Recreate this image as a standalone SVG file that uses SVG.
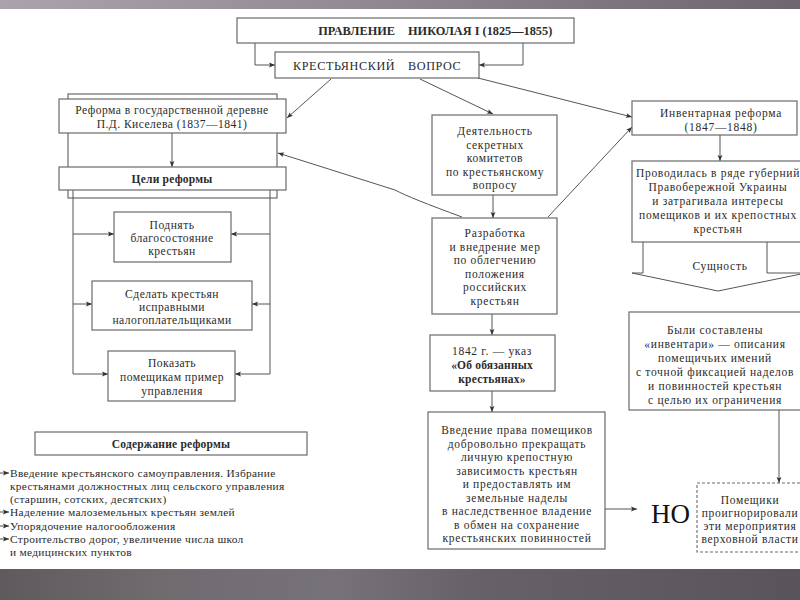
<svg xmlns="http://www.w3.org/2000/svg" width="800" height="600" viewBox="0 0 800 600">
<defs>
<linearGradient id="gTop" x1="0" y1="0" x2="1" y2="0">
<stop offset="0" stop-color="#aaa3ab"/><stop offset="0.5" stop-color="#8f8790"/><stop offset="1" stop-color="#6e666f"/>
</linearGradient>
<linearGradient id="gBot" x1="0" y1="0" x2="1" y2="0">
<stop offset="0" stop-color="#5e5a5e"/><stop offset="0.2" stop-color="#6f6b6f"/><stop offset="0.42" stop-color="#77727a"/><stop offset="0.6" stop-color="#666166"/><stop offset="1" stop-color="#58545a"/>
</linearGradient>
<marker id="ah" viewBox="0 0 10 10" refX="10" refY="5" markerWidth="7" markerHeight="6" orient="auto" markerUnits="userSpaceOnUse">
<path d="M0,1 L10,5 L0,9 L2,5 Z" fill="#333"/>
</marker>
<style>
.box{fill:#fff;stroke:#6a6a6a;stroke-width:1.2}
.dash{fill:#fff;stroke:#6a6a6a;stroke-width:1.1;stroke-dasharray:3,2}
.ln{fill:none;stroke:#555;stroke-width:1}
.arr{fill:none;stroke:#555;stroke-width:1;marker-end:url(#ah)}
text{font-family:"Liberation Serif","Times New Roman",serif;fill:#2b2b2b;font-size:11.5px;letter-spacing:0.7px}
.c{text-anchor:middle}
.lf{font-size:11.6px;letter-spacing:0.45px}
.li{font-size:11.4px;letter-spacing:0.3px}
.b{font-weight:bold;font-size:11.5px;letter-spacing:0.2px}
.t{font-size:12.3px;font-weight:bold;letter-spacing:0}
.q{font-size:12.2px;letter-spacing:0.6px}
.no{font-size:27px;fill:#111;letter-spacing:0}
</style>
</defs>
<rect x="0" y="0" width="800" height="600" fill="#fff"/>
<rect x="0" y="0" width="800" height="9" fill="url(#gTop)"/>
<rect x="0" y="569" width="800" height="31" fill="url(#gBot)"/>

<g id="frame-left">
<rect class="box" x="68" y="94" width="209" height="104"/>
</g>

<g id="connectors">
<path class="arr" d="M255,43 V65 H275"/>
<path class="arr" d="M523,43 V65 H479"/>
<path class="arr" d="M331,79 L287,118"/>
<path class="arr" d="M420,79 L493,114"/>
<path class="arr" d="M478,78 L632,117"/>
<path class="arr" d="M462,217 Q410,198 395,190 L278,153"/>
<path class="arr" d="M548,217 L632,127"/>
<path class="arr" d="M172,133 V167"/>
<path class="ln" d="M73,190 V374"/>
<path class="ln" d="M270,190 V374"/>
<path class="arr" d="M73,234 H114"/>
<path class="arr" d="M73,304 H92"/>
<path class="arr" d="M73,374 H108"/>
<path class="arr" d="M270,234 H231"/>
<path class="arr" d="M270,304 H252"/>
<path class="arr" d="M270,374 H235"/>
<path class="arr" d="M493,195 V218"/>
<path class="arr" d="M492,314 V335"/>
<path class="arr" d="M492,391 V412"/>
<path class="arr" d="M720,135 V161"/>
<path class="arr" d="M779,410 V483"/>
<path class="arr" d="M605,509 H637"/>
<path class="arr" d="M-4,473 H9"/>
<path class="arr" d="M-4,512 H9"/>
<path class="arr" d="M-4,526 H9"/>
<path class="arr" d="M-4,539 H9"/>
</g>

<g id="n-title">
<rect class="box" x="237" y="18" width="337" height="25"/>
<text class="t" x="395" y="35" text-anchor="end">ПРАВЛЕНИЕ</text>
<text class="t" x="408" y="35">НИКОЛАЯ I (1825—1855)</text>
</g>

<g id="n-question">
<rect class="box" x="275" y="52" width="204" height="26"/>
<text class="q" x="293" y="70">КРЕСТЬЯНСКИЙ</text>
<text class="q" x="408" y="70">ВОПРОС</text>
</g>

<g id="n-kiselev">
<rect class="box" x="59" y="99" width="227" height="34"/>
<text class="c lf" x="172" y="114">Реформа в государственной деревне</text>
<text class="c lf" x="172" y="128">П.Д. Киселева (1837—1841)</text>
</g>

<g id="n-goals">
<rect class="box" x="59" y="167" width="227" height="23"/>
<text class="c b" x="172" y="183">Цели реформы</text>
</g>

<g id="n-goal1">
<rect class="box" x="114" y="212" width="117" height="50"/>
<text class="c lf" x="172" y="229">Поднять</text>
<text class="c lf" x="172" y="242">благосостояние</text>
<text class="c lf" x="172" y="255">крестьян</text>
</g>

<g id="n-goal2">
<rect class="box" x="92" y="281" width="160" height="49"/>
<text class="c lf" x="172" y="298">Сделать крестьян</text>
<text class="c lf" x="172" y="311">исправными</text>
<text class="c lf" x="172" y="324">налогоплательщиками</text>
</g>

<g id="n-goal3">
<rect class="box" x="108" y="351" width="127" height="50"/>
<text class="c lf" x="172" y="367">Показать</text>
<text class="c lf" x="172" y="381">помещикам пример</text>
<text class="c lf" x="172" y="395">управления</text>
</g>

<g id="n-content">
<rect class="box" x="35" y="432" width="272" height="23"/>
<text class="c b" x="171" y="448">Содержание реформы</text>
</g>

<g id="n-content-list">
<text class="li" x="10" y="477">Введение крестьянского самоуправления. Избрание</text>
<text class="li" x="10" y="490">крестьянами должностных лиц сельского управления</text>
<text class="li" x="10" y="503">(старшин, сотских, десятских)</text>
<text class="li" x="10" y="516">Наделение малоземельных крестьян землей</text>
<text class="li" x="10" y="530">Упорядочение налогообложения</text>
<text class="li" x="10" y="543">Строительство дорог, увеличение числа школ</text>
<text class="li" x="10" y="556">и медицинских пунктов</text>
</g>

<g id="n-committees">
<rect class="box" x="432" y="115" width="125" height="80"/>
<text class="c" x="495" y="135">Деятельность</text>
<text class="c" x="495" y="148.5">секретных</text>
<text class="c" x="495" y="162">комитетов</text>
<text class="c" x="495" y="175.5">по крестьянскому</text>
<text class="c" x="495" y="189">вопросу</text>
</g>

<g id="n-measures">
<rect class="box" x="432" y="218" width="125" height="96"/>
<text class="c" x="495" y="237">Разработка</text>
<text class="c" x="495" y="250.5">и внедрение мер</text>
<text class="c" x="495" y="264">по облегчению</text>
<text class="c" x="495" y="277.5">положения</text>
<text class="c" x="495" y="291">российских</text>
<text class="c" x="495" y="304.5">крестьян</text>
</g>

<g id="n-1842">
<rect class="box" x="430" y="335" width="125" height="56"/>
<text class="c" x="492" y="355">1842 г. — указ</text>
<text class="c b" x="492" y="369">«Об обязанных</text>
<text class="c b" x="492" y="382.5">крестьянах»</text>
</g>

<g id="n-introduction">
<rect class="box" x="428" y="412" width="177" height="137"/>
<text class="c" x="517" y="434">Введение права помещиков</text>
<text class="c" x="517" y="447.5">добровольно прекращать</text>
<text class="c" x="517" y="461">личную крепостную</text>
<text class="c" x="517" y="474.5">зависимость крестьян</text>
<text class="c" x="517" y="488">и предоставлять им</text>
<text class="c" x="517" y="501.5">земельные наделы</text>
<text class="c" x="517" y="515">в наследственное владение</text>
<text class="c" x="517" y="528.5">в обмен на сохранение</text>
<text class="c" x="517" y="542">крестьянских повинностей</text>
</g>

<g id="n-inventory">
<rect class="box" x="632" y="101" width="165" height="34"/>
<text class="c" x="721" y="117">Инвентарная реформа</text>
<text class="c" x="721" y="131">(1847—1848)</text>
</g>

<g id="n-ukraine">
<rect class="box" x="632" y="161" width="172" height="81"/>
<text class="c" x="718" y="177">Проводилась в ряде губерний</text>
<text class="c" x="718" y="191">Правобережной Украины</text>
<text class="c" x="718" y="205">и затрагивала интересы</text>
<text class="c" x="718" y="219">помещиков и их крепостных</text>
<text class="c" x="718" y="233">крестьян</text>
</g>

<g id="n-essence">
<path class="ln" d="M643,242 V273 H632 L718,291 L806,273 H767 V242" fill="#fff"/>
<text class="c" x="720" y="270">Сущность</text>
</g>

<g id="n-inventories">
<rect class="box" x="629" y="312" width="174" height="98"/>
<text class="c" x="715" y="334">Были составлены</text>
<text class="c" x="715" y="348">«инвентари» — описания</text>
<text class="c" x="715" y="362">помещичьих имений</text>
<text class="c" x="715" y="376">с точной фиксацией наделов</text>
<text class="c" x="715" y="390">и повинностей крестьян</text>
<text class="c" x="715" y="404">с целью их ограничения</text>
</g>

<g id="n-but">
<text class="no" x="651" y="523">НО</text>
</g>

<g id="n-landlords">
<rect class="dash" x="697" y="483" width="106" height="69"/>
<text class="c" x="750" y="504">Помещики</text>
<text class="c" x="750" y="517">проигнорировали</text>
<text class="c" x="750" y="530">эти мероприятия</text>
<text class="c" x="750" y="543">верховной власти</text>
</g>
</svg>
